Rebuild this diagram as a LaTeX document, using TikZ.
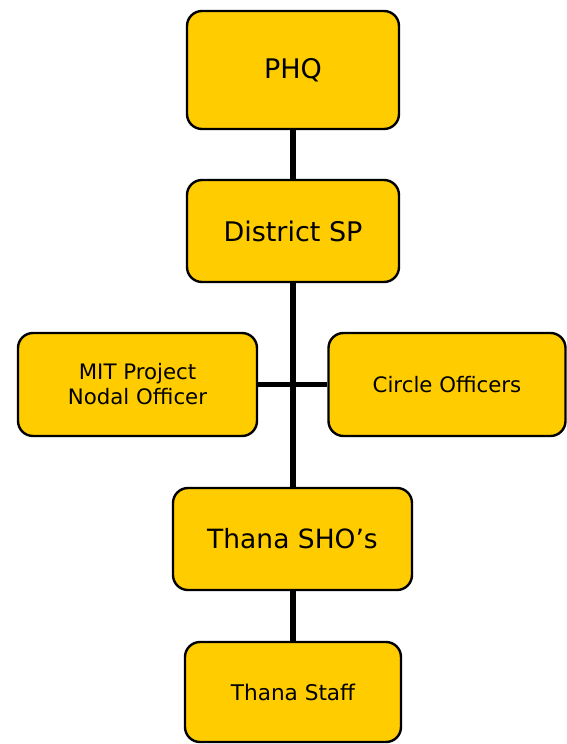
\documentclass[tikz,border=0pt]{standalone}
\usepackage{fontspec}
\setmainfont{DejaVu Sans}
\begin{document}
\begin{tikzpicture}[x=1pt,y=-1pt,
  orgbox/.style={draw=black, line width=2.4pt, fill=boxyellow, rounded corners=15pt,
    inner sep=0pt, align=center, text=black},
  link/.style={line width=5.5pt, draw=black}]
\definecolor{boxyellow}{HTML}{FFCC00}
\useasboundingbox (0,0) rectangle (566,744);
% boxes
\node[orgbox, minimum width=212pt, minimum height=118pt, font=\fontsize{27}{32}\selectfont] (phq) at (293,70) {PHQ};
\node[orgbox, minimum width=212pt, minimum height=102pt, font=\fontsize{27}{32}\selectfont] (sp) at (293,231) {District SP};
\node[orgbox, minimum width=239pt, minimum height=103pt, font=\fontsize{21.3}{25}\selectfont] (mit) at (137.5,384.5) {MIT Project\\Nodal Officer};
\node[orgbox, minimum width=237pt, minimum height=103pt, font=\fontsize{21.3}{25}\selectfont] (co) at (447,384.5) {Circle Officers};
\node[orgbox, minimum width=239pt, minimum height=102pt, font=\fontsize{26.5}{31}\selectfont] (sho) at (292.5,539) {Thana SHO’s};
\node[orgbox, minimum width=216pt, minimum height=100pt, font=\fontsize{21.6}{26}\selectfont] (staff) at (293,692) {Thana Staff};
% tree links
\draw[link] (phq.south) -- (sp.north);
\draw[link] (sp.south) -- (sho.north -| sp.south);
\draw[link] (mit.east) -- (co.west);
\draw[link] (sho.south -| staff.north) -- (staff.north);
\end{tikzpicture}
\end{document}
